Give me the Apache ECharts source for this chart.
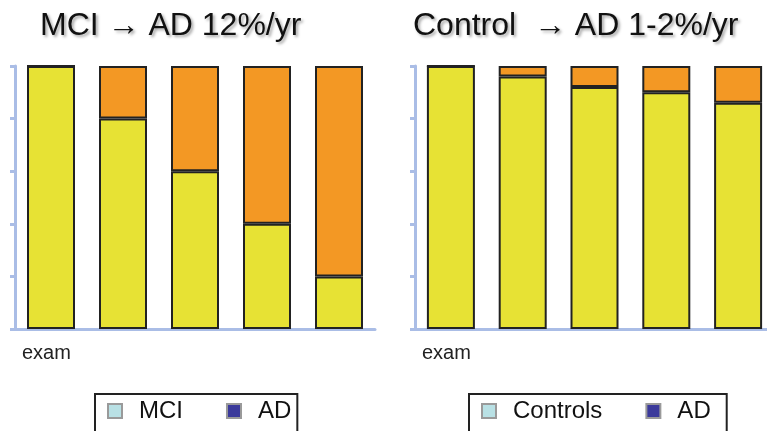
<!DOCTYPE html>
<html>
<head>
<meta charset="utf-8">
<script src="https://cdn.jsdelivr.net/npm/echarts@6/dist/echarts.min.js"></script>
<style>
  html, body { margin: 0; padding: 0; background: #fff; }
  #chart { width: 767px; height: 431px; }
</style>
</head>
<body>
<div id="chart"></div>
<script>
// Exams along the x axis (five visits per cohort)
const exams = ['1', '2', '3', '4', '5'];

// MCI cohort: share still MCI vs. converted to AD (%)
const mciStable = [100, 80, 60, 40, 20];
const mciToAD = [0, 20, 40, 60, 80];

// Control cohort: share still normal vs. converted to AD (%)
const ctrlStable = [100, 96, 92, 90, 86];
const ctrlToAD = [0, 4, 8, 10, 14];

const titles = ['MCI \u2192 AD 12%/yr', 'Control  \u2192 AD 1-2%/yr'];
const legendLeft = ['MCI', 'AD'];
const legendRight = ['Controls', 'AD'];

const FONT = "'Liberation Sans', Arial, Helvetica, sans-serif";
const YELLOW = '#e7e234';
const ORANGE = '#f39824';
const AXIS = '#aabde6';
const LEG_LIGHT = '#b9e1e5';
const LEG_DARK = '#3b3a9b';

const chart = echarts.init(document.getElementById('chart'), null, { renderer: 'canvas' });

const titleStyle = {
  fontFamily: FONT, fontSize: 32, fontWeight: 'normal', color: '#111',
  textShadowColor: 'rgba(0,0,0,0.35)', textShadowBlur: 3,
  textShadowOffsetX: 2, textShadowOffsetY: 2
};

function legendItems(names) {
  return names.map((n, i) => ({
    name: n,
    icon: 'rect',
    itemStyle: { color: i === 0 ? LEG_LIGHT : LEG_DARK, borderColor: '#9a9a9a', borderWidth: 2 }
  }));
}

const legendText = { fontFamily: FONT, fontSize: 24, color: '#111', padding: [0, 0, 0, 12] };

function xAxis(gridIndex) {
  return {
    type: 'category', gridIndex, data: exams,
    name: 'exam', nameLocation: 'start', nameGap: 0,
    nameTextStyle: { fontFamily: FONT, fontSize: 20, color: '#222', align: 'left', verticalAlign: 'top', padding: [14, 0, 0, 7] },
    axisLine: { lineStyle: { color: AXIS, width: 3 } },
    axisTick: { show: false }, axisLabel: { show: false }
  };
}

function yAxis(gridIndex) {
  return {
    type: 'value', gridIndex, min: 0, max: 100, interval: 20,
    axisLine: { show: true, lineStyle: { color: AXIS, width: 3 } },
    axisTick: { show: true, length: 5, lineStyle: { color: AXIS, width: 3 } },
    axisLabel: { show: false }, splitLine: { show: false }
  };
}

function bar(name, data, color, idx, stack) {
  return {
    name, type: 'bar', stack, data, xAxisIndex: idx, yAxisIndex: idx,
    barWidth: 48,
    itemStyle: { color, borderColor: '#222', borderWidth: 2 },
    emphasis: { disabled: true }
  };
}

chart.setOption({
  animation: false,
  title: [
    { text: titles[0], left: 40, top: 10, textStyle: titleStyle, padding: 0 },
    { text: titles[1], left: 413, top: 10, textStyle: titleStyle, padding: 0 }
  ],
  legend: [
    {
      data: legendItems(legendLeft), left: 95, top: 394, orient: 'horizontal',
      itemWidth: 14, itemHeight: 14, itemGap: 43, selectedMode: false,
      borderColor: '#222', borderWidth: 2, padding: [5, 6, 30, 12],
      textStyle: legendText
    },
    {
      data: legendItems(legendRight), left: 469, top: 394, orient: 'horizontal',
      itemWidth: 14, itemHeight: 14, itemGap: 43, selectedMode: false,
      borderColor: '#222', borderWidth: 2, padding: [5, 16, 30, 12],
      textStyle: legendText
    }
  ],
  grid: [
    { left: 15, top: 66, width: 360, height: 263, outerBoundsMode: 'none' },
    { left: 415, top: 66, width: 359, height: 263, outerBoundsMode: 'none' }
  ],
  xAxis: [xAxis(0), xAxis(1)],
  yAxis: [yAxis(0), yAxis(1)],
  series: [
    bar('MCI', mciStable, YELLOW, 0, 'mci'),
    bar('AD', mciToAD, ORANGE, 0, 'mci'),
    bar('Controls', ctrlStable, YELLOW, 1, 'ctrl'),
    bar('AD', ctrlToAD, ORANGE, 1, 'ctrl')
  ]
});
</script>
</body>
</html>
